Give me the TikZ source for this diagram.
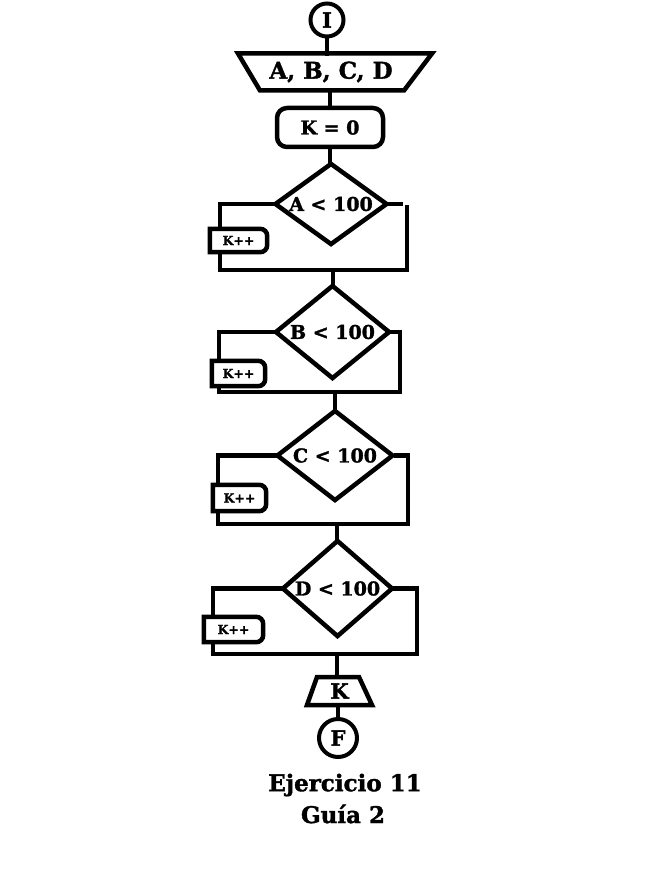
\documentclass[tikz,border=0pt]{standalone}
\usepackage{fontspec}
\setmainfont{DejaVu Serif}
\newfontfamily\heavy{DejaVu Serif Bold}[FakeBold=1.6]
\usetikzlibrary{shapes.geometric,calc}
\newcommand\kplusbox[1]{\draw[line] (#1.south west) -- (#1.north west) -- ([xshift=-7pt]#1.north east) arc[start angle=90,end angle=0,radius=7pt] -- ([yshift=7pt]#1.south east) arc[start angle=0,end angle=-90,radius=7pt] -- cycle;}
\begin{document}
\begin{tikzpicture}[x=1pt,y=1pt,
  line/.style={line width=4.5pt, line join=miter, line cap=rect},
  term/.style={circle, draw, line width=4pt, inner sep=0pt, font=\fontsize{21}{24}\heavy},
  txtbox/.style={draw=none, inner sep=0pt},
  procbox/.style={rectangle, rounded corners=10pt, draw, line width=4.5pt, inner sep=0pt, minimum width=106, minimum height=39, font=\fontsize{19}{22}\heavy},
  dec/.style={diamond, draw, line width=4.5pt, aspect=1.4, inner sep=0pt, font=\fontsize{19}{22}\heavy},
  kbox/.style={draw=none, fill=white, inner sep=0pt, font=\fontsize{12.5}{14}\heavy},
  title/.style={font=\fontsize{23}{27}\heavy}
]
\fill[white] (0,0) rectangle (650,-893);
\useasboundingbox (0,0) rectangle (650,-893);

% start
\node[term, minimum size=33] (I) at (327,-20) {I};
% input
\node[txtbox, minimum width=150, minimum height=37, font=\fontsize{23}{27}\heavy] (inp) at (331,-72) {A, B, C, D};
\draw[line] ($(inp.center)+(-93,18.5)$) -- ($(inp.center)+(101,18.5)$) -- ($(inp.center)+(73,-18.5)$) -- ($(inp.center)+(-71,-18.5)$) -- cycle;
\draw[line] (I.south) -- (I.south |- inp.north);
% K = 0
\node[procbox] (k0) at (330,-127.5) {K = 0};
\draw[line] (inp.south -| k0.north) -- (k0.north);

% ---- decision 1
\node[dec, minimum width=113, minimum height=82] (d1) at (331,-204) {A < 100};
\draw[line] (k0.south) -- (k0.south |- d1.north);
\draw[line] (d1.west) -- (220,-204) -- (220,-270) -- (407,-270) -- (407,-207);
\draw[line] (d1.east) -- (401,-204);
\coordinate (j1) at (333,-270);
\node[kbox, minimum width=57, minimum height=23] (k1) at (238.5,-240.5) {K++};
\kplusbox{k1}

% ---- decision 2
\node[dec, minimum width=115, minimum height=94] (d2) at (332.5,-332) {B < 100};
\draw[line] (j1) -- (j1 |- d2.north);
\draw[line] (d2.west) -- (219,-332) -- (219,-392) -- (400,-392) -- (400,-332) -- (d2.east);
\coordinate (j2) at (335,-392);
\node[kbox, minimum width=53, minimum height=25] (k2) at (238.5,-373.5) {K++};
\kplusbox{k2}

% ---- decision 3
\node[dec, minimum width=117, minimum height=91] (d3) at (335,-455.5) {C < 100};
\draw[line] (j2) -- (j2 |- d3.north);
\draw[line] (d3.west) -- (218,-455.5) -- (218,-524) -- (408,-524) -- (408,-455.5) -- (d3.east);
\coordinate (j3) at (337,-524);
\node[kbox, minimum width=53, minimum height=26] (k3) at (239.5,-498) {K++};
\kplusbox{k3}

% ---- decision 4
\node[dec, minimum width=111, minimum height=97] (d4) at (337.5,-588.5) {D < 100};
\draw[line] (j3) -- (j3 |- d4.north);
\draw[line] (d4.west) -- (213,-588.5) -- (213,-654) -- (417,-654) -- (417,-588.5) -- (d4.east);
\coordinate (j4) at (337,-654);
\node[kbox, minimum width=59, minimum height=25] (k4) at (233.5,-629.5) {K++};
\kplusbox{k4}

% output
\node[txtbox, minimum width=40, minimum height=28, font=\fontsize{21}{24}\heavy] (out) at (339.5,-691) {K};
\draw[line] ($(out.center)+(-22.5,14)$) -- ($(out.center)+(19.5,14)$) -- ($(out.center)+(32.5,-14)$) -- ($(out.center)+(-32.5,-14)$) -- cycle;
\draw[line] (j4) -- (j4 |- out.north);
% end
\node[term, minimum size=38] (F) at (338,-738) {F};
\draw[line] (out.south -| F.north) -- (F.north);

% caption
\node[title] (t1) at (345,-785) {Ejercicio 11};
\node[title] (t2) at (343,-814) {Guía 2};
\end{tikzpicture}
\end{document}
